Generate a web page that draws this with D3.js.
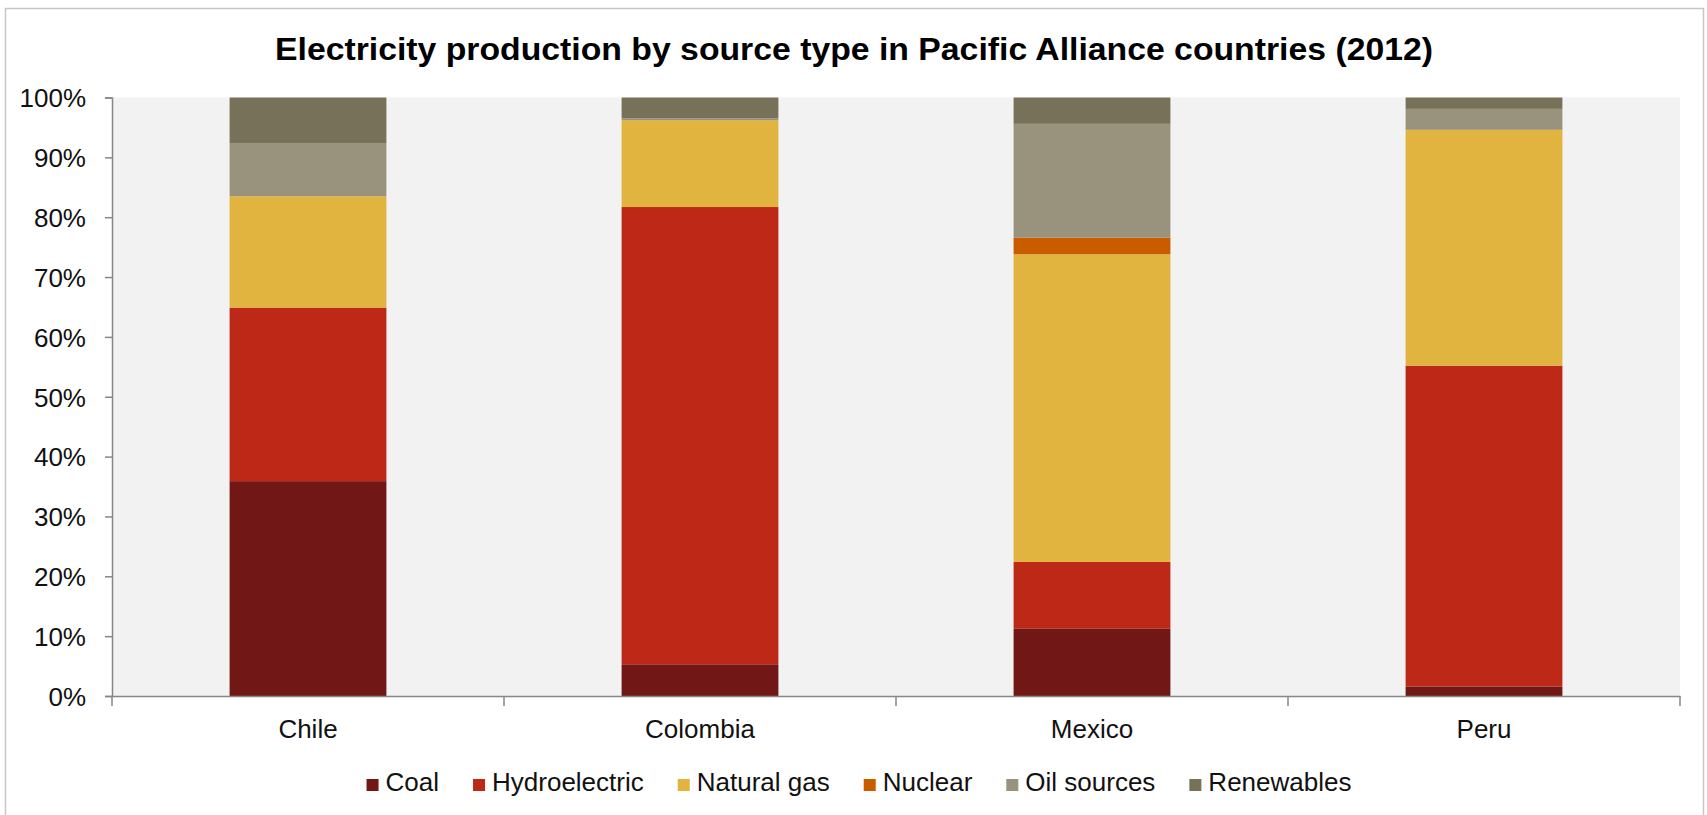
<!DOCTYPE html>
<html>
<head>
<meta charset="utf-8">
<script src="https://cdn.jsdelivr.net/npm/d3@7"></script>
<style>
  html, body { margin: 0; padding: 0; background: #ffffff; }
  svg { display: block; font-family: "Liberation Sans", Arial, sans-serif; }
</style>
</head>
<body>
<svg id="chart" width="1707" height="815"></svg>
<script>
// ---- data ----
const titleText = "Electricity production by source type in Pacific Alliance countries (2012)";
const countries = ["Chile", "Colombia", "Mexico", "Peru"];
const sources = ["Coal", "Hydroelectric", "Natural gas", "Nuclear", "Oil sources", "Renewables"];
const coal         = [35.9,  5.3, 11.3,  1.6];
const hydroelectric = [29.0, 76.4, 11.1, 53.6];
const naturalGas   = [18.6, 14.5, 51.4, 39.4];
const nuclear      = [ 0.0,  0.0,  2.8,  0.0];
const oilSources   = [ 8.9,  0.3, 19.0,  3.5];
const renewables   = [ 7.6,  3.5,  4.4,  1.9];
const yTicks = [0, 10, 20, 30, 40, 50, 60, 70, 80, 90, 100];
const colors = ["#711716", "#BE2817", "#E1B43F", "#CA5C00", "#99927D", "#787159"];

const seriesValues = [coal, hydroelectric, naturalGas, nuclear, oilSources, renewables];
const table = countries.map((c, i) => {
  const row = { country: c };
  sources.forEach((s, k) => { row[s] = seriesValues[k][i]; });
  return row;
});

// ---- layout ----
const svg = d3.select("#chart");
const plot = { left: 112, right: 1680, top: 97.5, bottom: 696 };

// outer frame
svg.append("rect")
  .attr("x", 5.5).attr("y", 8.5)
  .attr("width", 1698).attr("height", 830)
  .attr("fill", "#ffffff")
  .attr("stroke", "#c6c6c6").attr("stroke-width", 1.5);

// title
svg.append("text")
  .attr("x", 854).attr("y", 60)
  .attr("text-anchor", "middle")
  .attr("font-weight", "bold")
  .attr("font-size", 31)
  .attr("fill", "#000")
  .attr("textLength", 1158)
  .attr("lengthAdjust", "spacingAndGlyphs")
  .text(titleText);

// plot background
svg.append("rect")
  .attr("x", plot.left).attr("y", plot.top)
  .attr("width", plot.right - plot.left).attr("height", plot.bottom - plot.top)
  .attr("fill", "#f2f2f2");

const xBand = d3.scaleBand().domain(countries).range([plot.left, plot.right]).padding(0);
const xBar = d3.scaleBand().domain(countries).range([plot.left, plot.right])
  .paddingInner(0.6).paddingOuter(0.3);
const y = d3.scaleLinear().domain([0, 100]).range([plot.bottom, plot.top]);
const color = d3.scaleOrdinal().domain(sources).range(colors);

const stack = d3.stack().keys(sources);
const stacked = stack(table);

svg.append("g").selectAll("g")
  .data(stacked).join("g")
  .attr("fill", d => color(d.key))
  .selectAll("rect")
  .data(d => d).join("rect")
  .attr("x", d => xBar(d.data.country))
  .attr("width", xBar.bandwidth())
  .attr("y", d => y(d[1]))
  .attr("height", d => Math.max(0, y(d[0]) - y(d[1])));

// y axis
const yAxis = d3.axisLeft(y).tickValues(yTicks).tickFormat(d => d + "%").tickSize(7).tickPadding(19);
const gy = svg.append("g").attr("transform", `translate(${plot.left},0)`).call(yAxis);
gy.select(".domain").attr("stroke", "#868686").attr("stroke-width", 1.5);
gy.selectAll(".tick line").attr("stroke", "#868686").attr("stroke-width", 1.5);
gy.selectAll(".tick text").attr("font-size", 26).attr("fill", "#111")
  .attr("font-family", "'Liberation Sans', Arial, sans-serif").attr("dy", "0.36em");

// x axis
const xAxis = d3.axisBottom(xBand).tickSize(0).tickPadding(24);
const gx = svg.append("g").attr("transform", `translate(0,${plot.bottom})`).call(xAxis);
gx.select(".domain").attr("stroke", "#868686").attr("stroke-width", 1.5);
gx.selectAll(".tick text").attr("font-size", 26).attr("fill", "#111")
  .attr("font-family", "'Liberation Sans', Arial, sans-serif");
// category separator ticks
const boundaries = countries.map(c => xBand(c)).concat([plot.right]);
gx.selectAll("line.sep").data(boundaries).join("line")
  .attr("class", "sep")
  .attr("x1", d => d).attr("x2", d => d)
  .attr("y1", 0).attr("y2", 10)
  .attr("stroke", "#868686").attr("stroke-width", 1.5);

// legend
const legend = svg.append("g");
const items = legend.selectAll("g").data(sources).join("g");
items.append("rect")
  .attr("width", 12).attr("height", 12)
  .attr("y", -12).attr("x", 0)
  .attr("fill", d => color(d));
items.append("text")
  .attr("x", 19).attr("y", 0)
  .attr("font-size", 26).attr("fill", "#111")
  .text(d => d);
let cx = 0;
items.each(function() {
  const g = d3.select(this);
  g.attr("transform", `translate(${cx},0)`);
  const tw = g.select("text").node().getComputedTextLength();
  cx += 19 + tw + 34;
});
const totalW = cx - 34;
legend.attr("transform", `translate(${859 - totalW / 2},791)`);
</script>
</body>
</html>
